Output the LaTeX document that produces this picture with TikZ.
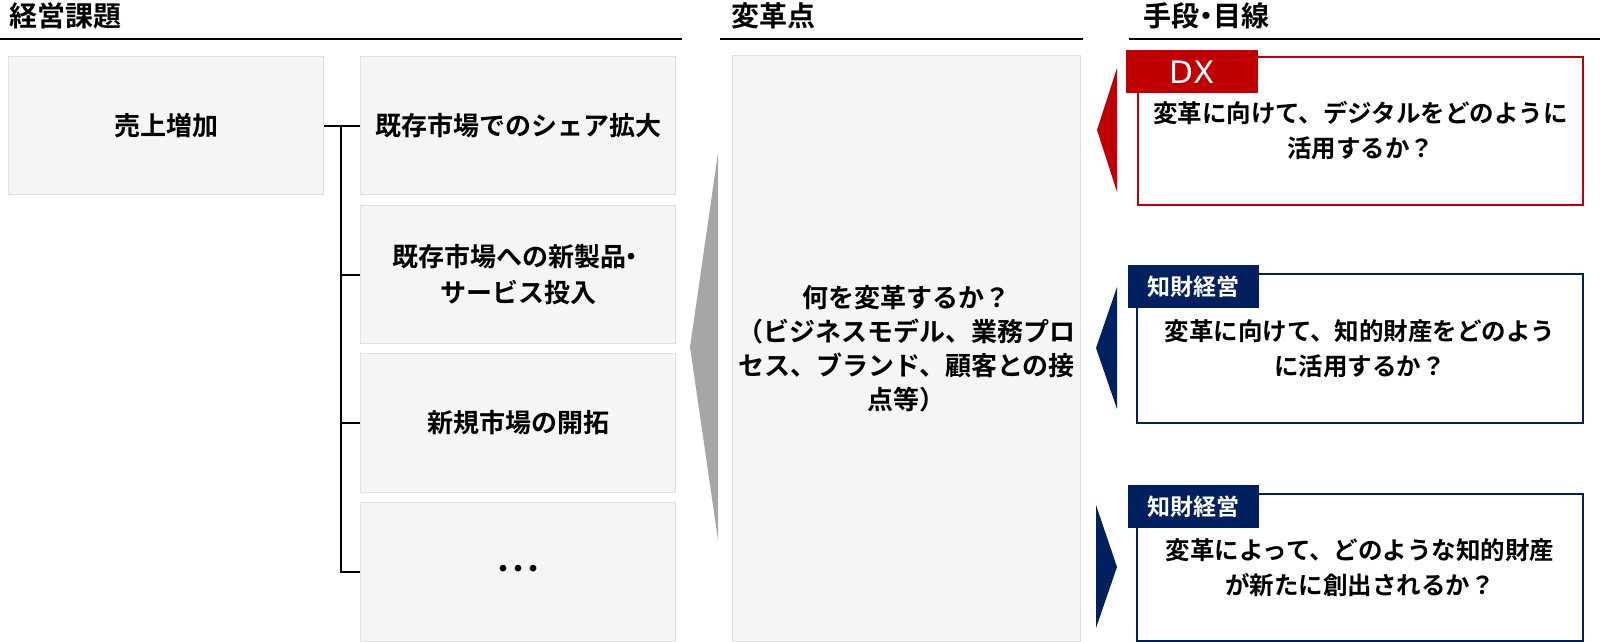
\documentclass[tikz,border=0pt]{standalone}
\usepackage{fontspec}
\setmainfont{Noto Sans CJK JP}[BoldFont={Noto Sans CJK JP Bold}]
\newfontfamily\dxfont{DejaVu Sans}
\definecolor{dxred}{HTML}{C00000}
\definecolor{ipnavy}{HTML}{002060}
\definecolor{boxgray}{HTML}{F5F5F5}
\definecolor{boxedge}{HTML}{E0E0E0}
\definecolor{arrgray}{HTML}{A6A6A6}
\begin{document}
\begin{tikzpicture}[x=1pt,y=-1pt,
  header/.style={anchor=west,inner sep=0pt,font=\fontsize{28}{30}\selectfont\bfseries},
  hline/.style={line width=2pt,black},
  greybox/.style={fill=boxgray,draw=boxedge,line width=1pt,anchor=north west,
    align=center,inner sep=0pt,font=\fontsize{26}{36}\selectfont\bfseries},
  conn/.style={line width=2pt,black},
  redbox/.style={draw=dxred,line width=2pt,fill=white,anchor=north west,align=center,
    inner sep=0pt,font=\fontsize{24.5}{35}\selectfont\bfseries},
  navybox/.style={draw=ipnavy,line width=2pt,fill=white,anchor=north west,align=center,
    inner sep=0pt,font=\fontsize{24.5}{35}\selectfont\bfseries},
  tabred/.style={fill=dxred,anchor=north west,inner sep=0pt,text=white,
    font=\dxfont\fontsize{31}{34}\selectfont},
  tabnavy/.style={fill=ipnavy,anchor=north west,inner sep=0pt,text=white,
    font=\fontsize{23}{25}\selectfont\bfseries}
]
\useasboundingbox (0,0) rectangle (1600,642);

% headers
\node[header] (h1) at (9,16) {経営課題};
\node[header] (h2) at (731,16) {変革点};
\node[header] (h3) at (1143,16) {手段\kern-7pt・\kern-7pt目線};
\coordinate (l1a) at (0,39); \coordinate (l1b) at (682,39);
\coordinate (l2a) at (720,39); \coordinate (l2b) at (1083,39);
\coordinate (l3a) at (1129,39); \coordinate (l3b) at (1600,39);
\draw[hline] (l1a) -- (l1b);
\draw[hline] (l2a) -- (l2b);
\draw[hline] (l3a) -- (l3b);

% left column
\node[greybox,minimum width=315pt,minimum height=138pt] (uri) at (8,56) {売上増加};
\node[greybox,minimum width=315pt,minimum height=138pt] (k1) at (360,56) {既存市場でのシェア拡大};
\node[greybox,minimum width=315pt,minimum height=138pt] (k2) at (360,205) {既存市場への新製品\kern-8pt・\\サービス投入};
\node[greybox,minimum width=315pt,minimum height=139pt] (k3) at (360,353) {新規市場の開拓};
\node[greybox,minimum width=315pt,minimum height=139pt] (k4) at (360,502) {・\kern-11pt・\kern-11pt・};

\coordinate (trunk) at (341,125);
\draw[conn] (uri.east) -- (k1.west);
\draw[conn] (trunk) |- (k2.west);
\draw[conn] (trunk) |- (k3.west);
\draw[conn] (trunk) |- (k4.west);

% big grey arrow
\coordinate (ga1) at (718,153);
\coordinate (ga2) at (690,347);
\coordinate (ga3) at (718,540);
\fill[arrgray] (ga1) -- (ga2) -- (ga3) -- cycle;

% central box
\node[greybox,minimum width=348pt,minimum height=586pt,font=\fontsize{26}{34}\selectfont\bfseries] (cen) at (732,55)
  {何を変革するか？\\（ビジネスモデル、業務プロ\\セス、ブランド、顧客との接\\点等）};

% DX
\node[redbox,minimum width=445pt,minimum height=148pt] (dx) at (1137,56)
  {変革に向けて、デジタルをどのように\\活用するか？};
\node[tabred,minimum width=132pt,minimum height=43pt] (dxtab) at (1126,50) {DX};
\coordinate (ra1) at (1117,68); \coordinate (ra2) at (1097,130); \coordinate (ra3) at (1117,192);
\fill[dxred] (ra1) -- (ra2) -- (ra3) -- cycle;

% IP 1
\node[navybox,minimum width=446pt,minimum height=149pt] (ip1) at (1136,273)
  {変革に向けて、知的財産をどのよう\\に活用するか？};
\node[tabnavy,minimum width=131pt,minimum height=43pt] (ip1tab) at (1128,265) {知財経営};
\coordinate (na1) at (1117,287); \coordinate (na2) at (1096,348); \coordinate (na3) at (1117,409);
\fill[ipnavy] (na1) -- (na2) -- (na3) -- cycle;

% IP 2
\node[navybox,minimum width=446pt,minimum height=147pt] (ip2) at (1136,493)
  {変革によって、どのような知的財産\\が新たに創出されるか？};
\node[tabnavy,minimum width=131pt,minimum height=43pt] (ip2tab) at (1128,485) {知財経営};
\coordinate (nb1) at (1096,505); \coordinate (nb2) at (1117,567); \coordinate (nb3) at (1096,628);
\fill[ipnavy] (nb1) -- (nb2) -- (nb3) -- cycle;
\end{tikzpicture}
\end{document}
